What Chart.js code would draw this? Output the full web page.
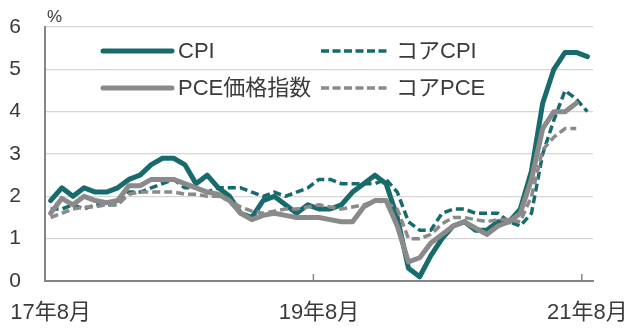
<!DOCTYPE html>
<html>
<head>
<meta charset="utf-8">
<script src="https://cdn.jsdelivr.net/npm/chart.js@4"></script>
<style>
  html, body { margin: 0; padding: 0; background: #fff; }
  #wrap { width: 640px; height: 333px; position: relative; }
</style>
</head>
<body>
<div id="wrap"><canvas id="inflationChart"></canvas></div>
<script>
// 月次ラベル (17年8月〜21年8月)
const months = [
  "17年8月", "17年9月", "17年10月", "17年11月", "17年12月",
  "18年1月", "18年2月", "18年3月", "18年4月", "18年5月", "18年6月",
  "18年7月", "18年8月", "18年9月", "18年10月", "18年11月", "18年12月",
  "19年1月", "19年2月", "19年3月", "19年4月", "19年5月", "19年6月",
  "19年7月", "19年8月", "19年9月", "19年10月", "19年11月", "19年12月",
  "20年1月", "20年2月", "20年3月", "20年4月", "20年5月", "20年6月",
  "20年7月", "20年8月", "20年9月", "20年10月", "20年11月", "20年12月",
  "21年1月", "21年2月", "21年3月", "21年4月", "21年5月", "21年6月",
  "21年7月", "21年8月"
];
const tickLabels = ["17年8月", "19年8月", "21年8月"];
const yTicks = [0, 1, 2, 3, 4, 5, 6];

const cpi = [
  1.9, 2.2, 2.0, 2.2, 2.1,
  2.1, 2.2, 2.4, 2.5, 2.75, 2.9, 2.9, 2.75, 2.3, 2.5, 2.2, 2.0,
  1.6, 1.5, 1.9, 2.0, 1.8, 1.6, 1.8, 1.7, 1.7, 1.8, 2.1, 2.3,
  2.5, 2.3, 1.5, 0.3, 0.1, 0.6, 1.0, 1.3, 1.4, 1.2, 1.2, 1.4,
  1.4, 1.7, 2.6, 4.2, 5.0, 5.4, 5.4, 5.3
];
const coreCpi = [
  1.7, 1.7, 1.8, 1.7, 1.8,
  1.8, 1.8, 2.1, 2.1, 2.2, 2.3, 2.4, 2.2, 2.2, 2.1, 2.2, 2.2,
  2.2, 2.1, 2.0, 2.1, 2.0, 2.1, 2.2, 2.4, 2.4, 2.3, 2.3, 2.3,
  2.3, 2.4, 2.1, 1.4, 1.2, 1.2, 1.6, 1.7, 1.7, 1.6, 1.6, 1.6,
  1.4, 1.3, 1.6, 3.0, 3.8, 4.5, 4.3, 4.0
];
const pce = [
  1.6, 1.95, 1.8, 2.0, 1.9,
  1.85, 1.9, 2.25, 2.25, 2.4, 2.4, 2.4, 2.3, 2.2, 2.1, 2.05, 1.9,
  1.6, 1.45, 1.55, 1.6, 1.55, 1.5, 1.5, 1.5, 1.45, 1.4, 1.4, 1.75,
  1.9, 1.9, 1.3, 0.45, 0.55, 0.9, 1.1, 1.3, 1.4, 1.25, 1.1, 1.3,
  1.4, 1.6, 2.4, 3.6, 4.0, 4.0, 4.2, null
];
const corePce = [
  1.5, 1.6, 1.7, 1.75, 1.75,
  1.8, 1.8, 2.05, 2.1, 2.1, 2.1, 2.1, 2.05, 2.05, 2.0, 2.0, 1.9,
  1.75, 1.65, 1.6, 1.65, 1.7, 1.7, 1.75, 1.8, 1.75, 1.7, 1.75, 1.8,
  1.9, 1.85, 1.7, 1.0, 1.0, 1.1, 1.35, 1.5, 1.5, 1.45, 1.4, 1.45,
  1.45, 1.4, 2.0, 3.1, 3.4, 3.6, 3.6, null
];

const TEAL = "#176b6d";
const GRAY = "#8a8a8a";
const AXIS = "#858585";
const TEXT = "#3a3a3a";
const FONT = "'Liberation Sans', 'Noto Sans CJK JP', sans-serif";

const series = [
  { label: "CPI", data: cpi, color: TEAL, dashed: false, order: 4 },
  { label: "コアCPI", data: coreCpi, color: TEAL, dashed: true, order: 3 },
  { label: "PCE価格指数", data: pce, color: GRAY, dashed: false, order: 2 },
  { label: "コアPCE", data: corePce, color: GRAY, dashed: true, order: 1 },
];

// 凡例・%表示・内向き目盛りを描く
const decorPlugin = {
  id: "decor",
  afterDatasetsDraw(chart) {
    const { ctx, chartArea, scales } = chart;
    const x = scales.x;
    ctx.save();

    // x軸の内向き目盛り
    ctx.strokeStyle = AXIS;
    ctx.lineWidth = 1.5;
    const step = x.getPixelForValue(1) - x.getPixelForValue(0);
    tickLabels.forEach((lab) => {
      const i = months.indexOf(lab);
      const px = x.getPixelForValue(i) - step / 2;
      ctx.beginPath();
      ctx.moveTo(px, chartArea.bottom);
      ctx.lineTo(px, chartArea.bottom - 7);
      ctx.stroke();
    });

    // %
    ctx.fillStyle = TEXT;
    ctx.font = "17px " + FONT;
    ctx.textBaseline = "bottom";
    ctx.textAlign = "left";
    ctx.fillText("%", chartArea.left + 2, chartArea.top - 1);

    // 凡例 (2列×2行)
    const cols = [chartArea.left + 58, chartArea.left + 276];
    const rows = [chartArea.top + 24, chartArea.top + 61];
    series.forEach((s, k) => {
      const cx = cols[s.dashed ? 1 : 0];
      const cy = rows[k < 2 ? 0 : 1];
      ctx.beginPath();
      ctx.strokeStyle = s.color;
      ctx.lineWidth = s.dashed ? 3.5 : 5;
      ctx.lineCap = s.dashed ? "butt" : "round";
      ctx.setLineDash(s.dashed ? [8, 3.5] : []);
      ctx.moveTo(cx, cy);
      ctx.lineTo(cx + 69, cy);
      ctx.stroke();
      ctx.setLineDash([]);
      ctx.fillStyle = TEXT;
      ctx.font = "22px " + FONT;
      ctx.textBaseline = "middle";
      ctx.fillText(s.label, cx + 75, cy + 1);
    });
    ctx.restore();
  },
};

new Chart(document.getElementById("inflationChart"), {
  type: "line",
  data: {
    labels: months,
    datasets: series.map((s) => ({
      label: s.label,
      data: s.data,
      borderColor: s.color,
      borderWidth: s.dashed ? 3.5 : 5,
      borderDash: s.dashed ? [8, 4] : [],
      borderJoinStyle: "round",
      borderCapStyle: s.dashed ? "butt" : "round",
      pointRadius: 0,
      tension: 0,
      fill: false,
      order: s.order,
      spanGaps: false,
    })),
  },
  options: {
    responsive: true,
    maintainAspectRatio: false,
    animation: false,
    layout: { padding: { top: 27, right: 47, left: 0, bottom: 0 } },
    plugins: {
      legend: { display: false },
      tooltip: { enabled: false },
    },
    scales: {
      x: {
        type: "category",
        offset: true,
        grid: { display: false },
        border: { display: true, color: AXIS, width: 2 },
        ticks: {
          autoSkip: false,
          maxRotation: 0,
          padding: 11,
          color: TEXT,
          font: { family: FONT, size: 22 },
          callback(value) {
            const lab = months[value];
            return tickLabels.includes(lab) ? lab : "";
          },
        },
        afterFit(scale) {
          scale.height = 52;
          scale.paddingLeft = 0;
          scale.paddingRight = 0;
        },
      },
      y: {
        min: yTicks[0],
        max: yTicks[yTicks.length - 1],
        grid: { color: "#d6d6d6", lineWidth: 1.2, drawTicks: false },
        border: { display: true, color: AXIS, width: 2 },
        ticks: {
          stepSize: 1,
          padding: 24,
          color: TEXT,
          font: { family: FONT, size: 21 },
        },
        afterFit(scale) {
          scale.width = 45;
          scale.paddingTop = 0;
        },
      },
    },
  },
  plugins: [decorPlugin],
});
</script>
</body>
</html>
